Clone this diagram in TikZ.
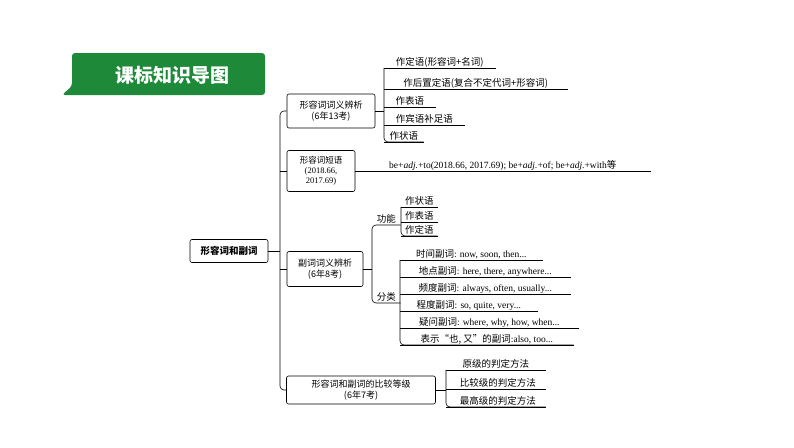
\documentclass[tikz,border=0pt]{standalone}
\usepackage{fontspec}
\setmainfont{Liberation Serif}
\newfontfamily\cjk{Noto Sans CJK SC}
\definecolor{bannergreen}{RGB}{29,137,57}
\tikzset{
  box/.style={draw, rounded corners=2pt, align=center, font=\fontsize{9}{10.5}\selectfont\cjk, inner sep=2pt},
  leaf/.style={anchor=south west, inner sep=1pt, text height=8pt, text depth=1.5pt, align=left, font=\fontsize{9.5}{11}\selectfont},
  link/.style={rounded corners=4pt}
}
\newcommand{\uline}[1]{\draw (#1.south west) -- (#1.south east);}
\begin{document}
\begin{tikzpicture}[x=1pt,y=-1pt, line width=0.6pt]
\useasboundingbox (0,0) rectangle (794,447);
% banner
\fill[bannergreen, rounded corners=3pt] (72,53) -- (265,53) -- (265,95) -- (62,95) -- (72,86) -- cycle;
\node[text=white, font=\fontsize{19}{20}\selectfont\cjk\bfseries] (title) at (172,75) {课标知识导图};

% root and branches
\node[box, font=\fontsize{9.5}{11}\selectfont\cjk\bfseries, minimum width=78, minimum height=23] (root) at (229,251) {形容词和副词};
\node[box, minimum width=88, minimum height=34] (adjmean) at (331,111) {形容词词义辨析\\(6年13考)};
\node[box, minimum width=68, minimum height=41, font=\fontsize{8.5}{10}\selectfont\cjk] (adjphr) at (321,171) {形容词短语\\{\rmfamily(2018.66,}\\{\rmfamily 2017.69)}};
\node[box, minimum width=76, minimum height=35] (advmean) at (325,269) {副词词义辨析\\(6年8考)};
\node[box, minimum width=149, minimum height=28] (degree) at (361,390) {形容词和副词的比较等级\\(6年7考)};

\coordinate (trunk) at (280,251);
\draw (root.east) -- (trunk);
\draw[link] (adjmean.west) -- (trunk |- adjmean.west) -- (trunk |- degree.west) -- (degree.west);
\draw[link] (trunk |- adjphr.west) -- (adjphr.west);
\draw[link] (trunk |- advmean.west) -- (advmean.west);

% adjective meanings
\node[leaf, minimum width=111] (a1) at (384,68) {\cjk 作定语(形容词+名词)};
\node[leaf, minimum width=183] (a2) at (384,89) {\cjk 作后置定语(复合不定代词+形容词)};
\node[leaf, minimum width=51] (a3) at (384,107) {\cjk 作表语};
\node[leaf, minimum width=80] (a4) at (384,125) {\cjk 作宾语补足语};
\node[leaf, minimum width=39] (a5) at (384,142) {\cjk 作状语};
\foreach \n in {a1,a2,a3,a4,a5} {\uline{\n}}
\draw[link] (a1.south west) -- (a5.south west) -- (a5.south east);
\draw (adjmean.east) -- (a1.south west |- adjmean.east);

% adjective phrases
\node[leaf, minimum width=295] (p1) at (355,171) {be+\textit{adj.}+to(2018.66, 2017.69); be+\textit{adj.}+of; be+\textit{adj.}+with{\cjk 等}};
\uline{p1}

% adverb meanings
\node[leaf, minimum width=28] (func) at (372,225) {\cjk 功能};
\node[leaf, minimum width=28] (kind) at (372,303) {\cjk 分类};
\draw[link] (func.south east) -- (func.south west) -- (kind.south west) -- (kind.south east);
\draw (advmean.east) -- (func.south west |- advmean.east);

\node[leaf, minimum width=36] (f1) at (401,207) {\cjk 作状语};
\node[leaf, minimum width=36] (f2) at (401,222) {\cjk 作表语};
\node[leaf, minimum width=36] (f3) at (401,236) {\cjk 作定语};
\foreach \n in {f1,f2,f3} {\uline{\n}}
\draw[link] (f1.south west) -- (f3.south west) -- (f3.south east);

\node[leaf, minimum width=142] (k1) at (400,260) {{\cjk 时间副词}: now, soon, then...};
\node[leaf, minimum width=170] (k2) at (400,277) {{\cjk 地点副词}: here, there, anywhere...};
\node[leaf, minimum width=170] (k3) at (400,294) {{\cjk 频度副词}: always, often, usually...};
\node[leaf, minimum width=137] (k4) at (400,311) {{\cjk 程度副词}: so, quite, very...};
\node[leaf, minimum width=178] (k5) at (400,328) {{\cjk 疑问副词}: where, why, how, when...};
\node[leaf, minimum width=173] (k6) at (400,345) {{\cjk 表示“也, 又”的副词}:also, too...};
\foreach \n in {k1,k2,k3,k4,k5,k6} {\uline{\n}}
\draw[link] (k1.south west) -- (k6.south west) -- (k6.south east);

% degrees
\node[leaf, minimum width=99, align=right] (d1) at (446,370) {\hfill\cjk 原级的判定方法};
\node[leaf, minimum width=99] (d2) at (446,389) {\cjk\ \ 比较级的判定方法};
\node[leaf, minimum width=99] (d3) at (446,407) {\cjk\ \ 最高级的判定方法};
\foreach \n in {d1,d2,d3} {\uline{\n}}
\draw[link] (d1.south west) -- (d3.south west) -- (d3.south east);
\draw (degree.east) -- (d1.south west |- degree.east);
\end{tikzpicture}
\end{document}
